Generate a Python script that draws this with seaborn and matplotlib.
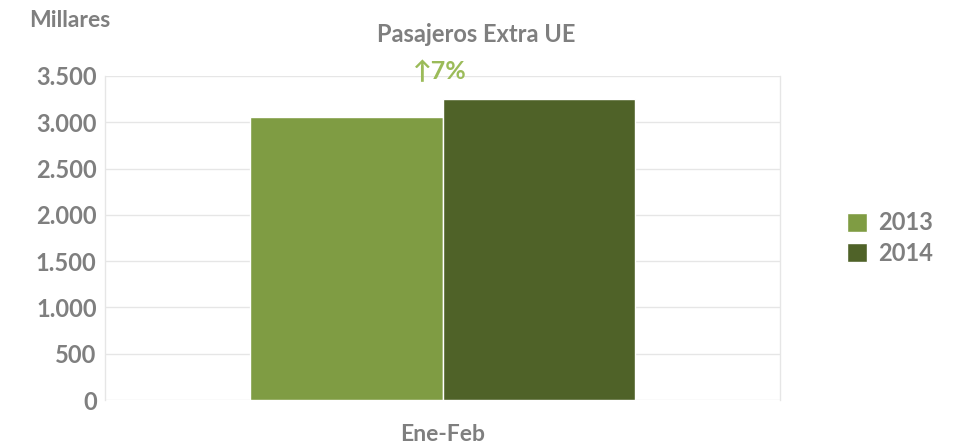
import pandas as pd
import matplotlib
matplotlib.use("Agg")
import matplotlib.pyplot as plt
import seaborn as sns
from matplotlib.font_manager import FontProperties
from matplotlib.ticker import FuncFormatter

# datos (miles de pasajeros)
periodos = ["Ene-Feb"]
anios = ["2013", "2014"]
pasajeros_2013 = [3060]
pasajeros_2014 = [3250]
variacion = "7%"

colores = ["#7f9c43", "#4f6228"]
gris = "#7f7f7f"

df = pd.DataFrame(
    {
        "periodo": periodos * 2,
        "anio": [anios[0]] * len(periodos) + [anios[1]] * len(periodos),
        "valor": pasajeros_2013 + pasajeros_2014,
    }
)

sns.set_theme(style="white")
plt.rcParams["font.family"] = ["Lato", "DejaVu Sans"]

fig = plt.figure(figsize=(9.55, 4.47), dpi=100)
ax = fig.add_axes([0.110, 0.105, 0.707, 0.725])

sns.barplot(
    data=df, x="periodo", y="valor", hue="anio", palette=colores,
    width=0.57, saturation=1, ax=ax, legend=True,
)

ax.set_xlim(-0.5, 0.5)
ax.set_ylim(0, 3500)
ax.set_yticks(range(0, 3501, 500))
ax.yaxis.set_major_formatter(FuncFormatter(lambda v, p: f"{int(v):,}".replace(",", ".")))
ax.grid(axis="y", color="#e6e6e6", linewidth=1)
ax.set_axisbelow(True)
for side in ["top", "bottom"]:
    ax.spines[side].set_visible(False)
for side in ["left", "right"]:
    ax.spines[side].set_color("#e6e6e6")
    ax.spines[side].set_linewidth(1)
ax.tick_params(axis="both", length=0, colors=gris)
ax.tick_params(axis="y", labelsize=17, pad=6)
ax.tick_params(axis="x", labelsize=16.5, pad=17)
for lbl in ax.get_yticklabels() + ax.get_xticklabels():
    lbl.set_fontweight("bold")
ax.set_xlabel("")
ax.set_ylabel("")

ax.text(-0.004, 3545, "\u2191" + variacion, ha="center", va="center",
        fontsize=18, fontweight="bold", color="#9bbb59")

fig.text(0.031, 0.955, "Millares", ha="left", va="center",
         fontsize=16.5, fontweight="bold", color=gris)
fig.text(0.499, 0.922, "Pasajeros Extra UE", ha="center", va="center",
         fontsize=17, fontweight="bold", color=gris)

fuente_leyenda = FontProperties(family=["Lato", "DejaVu Sans"], weight="bold", size=17)
leg = ax.legend(loc="center left", bbox_to_anchor=(1.099, 0.5), frameon=False,
                borderaxespad=0, borderpad=0,
                handlelength=0.85, handleheight=0.85, handletextpad=0.45,
                labelspacing=0.3, prop=fuente_leyenda, labelcolor=gris)

fig.savefig("out.png", dpi=100)
